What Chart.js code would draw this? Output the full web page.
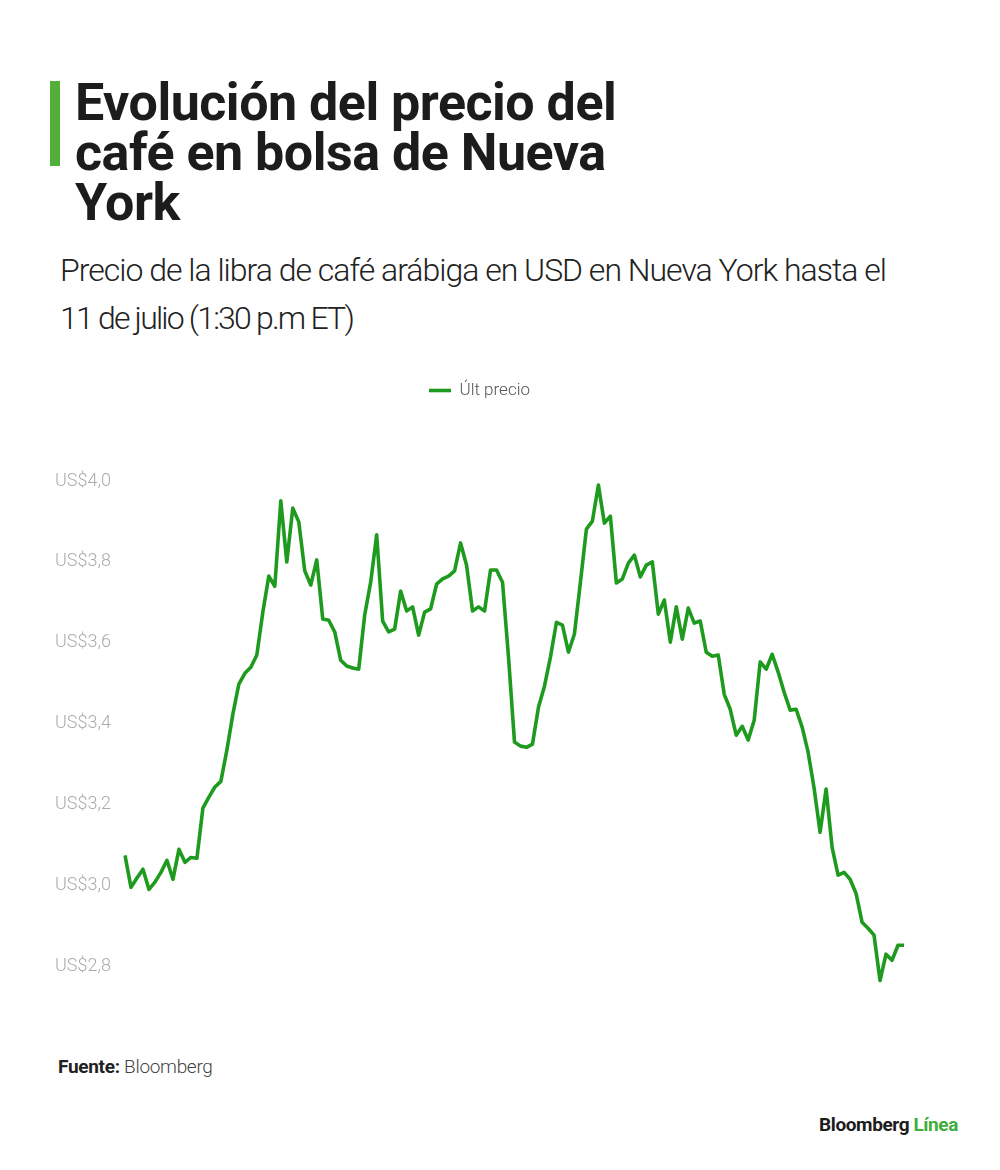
<!DOCTYPE html>
<html lang="es">
<head>
<meta charset="utf-8">
<title>Evolución del precio del café en bolsa de Nueva York</title>
<script src="https://cdn.jsdelivr.net/npm/chart.js@4.4.1/dist/chart.umd.min.js"></script>
<style>
  html, body { margin: 0; padding: 0; background: #fff; }
  body { width: 1000px; height: 1170px; position: relative; overflow: hidden; font-family: Roboto, "Noto Sans", sans-serif; }
  .barra { position: absolute; left: 50px; top: 81px; width: 10px; height: 85px; background: #52b03a; }
  h1 { position: absolute; left: 75px; top: 78px; margin: 0; font: 700 52px/50px Roboto, sans-serif; letter-spacing: -0.5px; color: #1c1c1c; }
  .subtitulo { position: absolute; left: 60px; top: 246px; margin: 0; font: 300 32px/48px Roboto, sans-serif; letter-spacing: -1px; color: #222; }
  .subtitulo span { letter-spacing: -1.8px; }
  .grafico { position: absolute; left: 0; top: 360px; width: 1000px; height: 658px; }
  .fuente { position: absolute; left: 58px; top: 1055px; font: 300 19px Roboto, sans-serif; color: #444; letter-spacing: -0.3px; }
  .fuente b { font-weight: 700; color: #222; }
  .marca { position: absolute; right: 42px; top: 1113px; font: 700 19px Roboto, sans-serif; color: #1c1c1c; letter-spacing: -0.4px; }
  .marca span { color: #3fae3a; }
</style>
</head>
<body>
<div class="barra"></div>
<h1>Evolución del precio del<br>café en bolsa de Nueva<br>York</h1>
<p class="subtitulo">Precio de la libra de café arábiga en USD en Nueva York hasta el<br><span>11 de julio (1:30 p.m ET)</span></p>
<div class="grafico"><canvas id="graficoCafe"></canvas></div>
<div class="fuente"><b>Fuente:</b> Bloomberg</div>
<div class="marca">Bloomberg <span>Línea</span></div>

<script>
// Último precio (USD por libra), sesión a sesión
const precios = [
  3.075, 2.996, 3.019, 3.041, 2.991, 3.009, 3.033, 3.063, 3.016, 3.090,
  3.058, 3.070, 3.068, 3.192, 3.219, 3.244, 3.258, 3.335, 3.424, 3.498,
  3.525, 3.540, 3.570, 3.676, 3.765, 3.740, 3.951, 3.800, 3.933, 3.899,
  3.778, 3.743, 3.805, 3.659, 3.656, 3.627, 3.557, 3.543, 3.538, 3.535,
  3.669, 3.750, 3.867, 3.654, 3.627, 3.634, 3.728, 3.679, 3.689, 3.619,
  3.676, 3.684, 3.745, 3.758, 3.765, 3.778, 3.847, 3.792, 3.679, 3.689,
  3.679, 3.780, 3.780, 3.750, 3.565, 3.355, 3.345, 3.342, 3.350, 3.441,
  3.493, 3.565, 3.651, 3.644, 3.577, 3.622, 3.750, 3.881, 3.901, 3.990,
  3.896, 3.913, 3.748, 3.758, 3.797, 3.817, 3.763, 3.792, 3.800, 3.671,
  3.706, 3.602, 3.689, 3.609, 3.686, 3.649, 3.654, 3.577, 3.567, 3.570,
  3.473, 3.436, 3.372, 3.394, 3.360, 3.409, 3.553, 3.535, 3.572, 3.528,
  3.478, 3.434, 3.436, 3.392, 3.330, 3.241, 3.132, 3.239, 3.095, 3.026,
  3.033, 3.016, 2.981, 2.910, 2.895, 2.878, 2.766, 2.831, 2.816, 2.853,
  2.853
];
const sesiones = precios.map((_, i) => i + 1);
const marcasY = [2.8, 3.0, 3.2, 3.4, 3.6, 3.8, 4.0];
const nombreSerie = 'Últ precio';

const verde = '#1e9b1e';

// deja aire entre la leyenda y el área del gráfico
const espacioLeyenda = {
  id: 'espacioLeyenda',
  beforeInit(chart) {
    const fitOriginal = chart.legend.fit;
    chart.legend.fit = function () {
      fitOriginal.call(this);
      this.height += 72;
    };
  }
};

const ctx = document.getElementById('graficoCafe').getContext('2d');

new Chart(ctx, {
  type: 'line',
  data: {
    labels: sesiones,
    datasets: [{
      label: nombreSerie,
      data: precios,
      borderColor: verde,
      backgroundColor: verde,
      borderWidth: 3.6,
      borderJoinStyle: 'round',
      pointRadius: 0,
      tension: 0
    }]
  },
  options: {
    responsive: true,
    maintainAspectRatio: false,
    animation: false,
    layout: { padding: { left: 55, right: 96, top: 12, bottom: 6 } },
    scales: {
      x: { display: false },
      y: {
        min: 2.7,
        max: 4.0,
        grid: { display: false },
        border: { display: false },
        afterBuildTicks: scale => { scale.ticks = marcasY.map(v => ({ value: v })); },
        afterFit: scale => { scale.width = 70; },
        ticks: {
          crossAlign: 'far',
          padding: 0,
          color: '#ababab',
          font: { family: 'Roboto', size: 18, weight: '300' },
          callback: v => 'US$' + v.toFixed(1).replace('.', ',')
        }
      }
    },
    plugins: {
      legend: {
        position: 'top',
        labels: {
          usePointStyle: true,
          pointStyle: 'line',
          pointStyleWidth: 22,
          color: '#555',
          font: { family: 'Roboto', size: 17, weight: '300' },
          padding: 10
        }
      },
      tooltip: { enabled: false }
    }
  },
  plugins: [espacioLeyenda]
});
</script>
</body>
</html>
